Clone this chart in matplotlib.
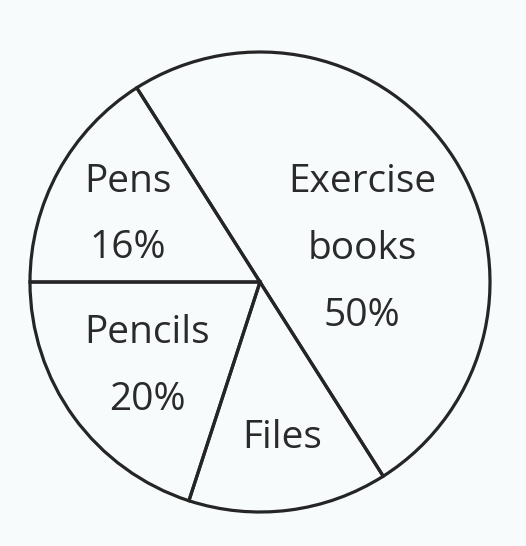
import matplotlib
matplotlib.use("Agg")
import matplotlib.pyplot as plt

categories = ["Exercise books", "Pens", "Pencils", "Files"]
values = [50, 16, 20, 14]
label_lines = [["Exercise", "books", "50%"], ["Pens", "16%"], ["Pencils", "20%"], ["Files"]]

W, H = 526, 546
cx, cy, R = 260, 282, 230

fig = plt.figure(figsize=(W / 100, H / 100), dpi=100)
bg = "#f8fbfb"
fig.patch.set_facecolor(bg)
ax = fig.add_axes([0, 0, 1, 1])
ax.set_facecolor(bg)

wedges, _ = ax.pie(values, startangle=-57.6, counterclock=True,
                   colors=["none"] * len(values),
                   wedgeprops=dict(edgecolor="#252525", linewidth=2.3, facecolor="none"))

ax.set_xlim(-cx / R, (W - cx) / R)
ax.set_ylim(-(H - cy) / R, cy / R)
ax.set_aspect("auto")
ax.axis("off")

def px(x, y):
    return (x - cx) / R, (cy - y) / R

# pixel anchor (x centre, baselines) for each label's lines
anchors = [(362, [192, 259, 326]), (128, [192, 258]), (147, [343, 410]), (282, [448])]
for lines, (x, ys) in zip(label_lines, anchors):
    for txt, y in zip(lines, ys):
        X, Y = px(x, y)
        ax.text(X, Y, txt, ha="center", va="baseline", fontsize=28,
                family="Open Sans", color="#2a2a2a")

fig.savefig("out.png", dpi=100, facecolor=fig.get_facecolor())
